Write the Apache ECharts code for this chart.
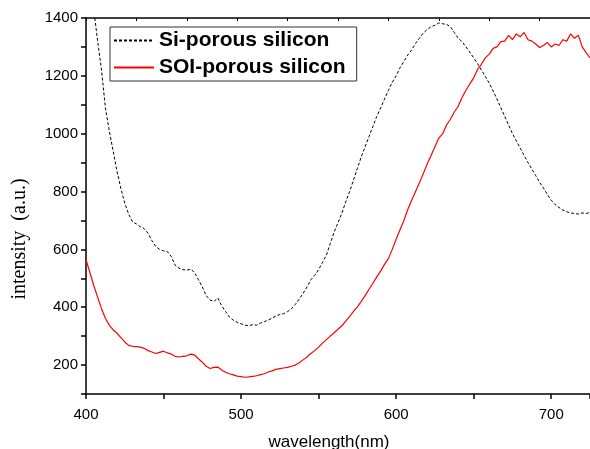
<!DOCTYPE html>
<html>
<head>
<meta charset="utf-8">
<script src="https://cdn.jsdelivr.net/npm/echarts@6/dist/echarts.min.js"></script>
<style>
  html, body { margin: 0; padding: 0; background: #fff; }
  #chart { width: 590px; height: 449px; }
</style>
</head>
<body>
<div id="chart"></div>
<script>
// wavelength (nm), sampled every 2.5 nm
var wavelength = [];
for (var w = 400; w <= 725; w += 2.5) { wavelength.push(w); }

// Si-porous silicon
var siPorous = [1640,1530,1430,1320,1220,1090,1010,940,870,810,
  760,722,695,688,678,672,656,630,610,600,
  595,592,575,545,535,530,528,532,520,495,
  470,440,425,420,432,405,385,366,355,348,
  343,338,336,340,338,345,350,356,362,370,
  375,378,385,395,410,428,448,470,495,510,
  530,555,580,620,660,692,725,765,800,840,
  880,920,955,990,1025,1060,1089,1120,1150,1178,
  1200,1228,1250,1272,1290,1312,1330,1348,1360,1370,
  1375,1383,1380,1378,1370,1350,1330,1318,1300,1282,
  1262,1242,1220,1198,1175,1148,1120,1090,1060,1030,
  1000,975,950,925,900,878,855,832,812,790,
  770,755,745,736,730,726,724,722,726,724,
  728];
// SOI-porous silicon
var soiPorous = [565,520,475,435,395,362,338,322,310,295,
  280,268,265,264,262,258,250,245,240,244,
  248,242,238,230,228,230,232,238,235,222,
  210,196,188,192,193,183,175,170,166,162,
  160,158,159,161,163,167,170,176,180,185,
  188,190,192,196,200,208,218,228,240,250,
  262,276,288,300,312,324,336,352,368,386,
  401,420,440,462,483,505,525,548,568,600,
  635,668,700,738,770,800,830,862,895,925,
  955,985,1000,1030,1050,1075,1095,1125,1150,1172,
  1193,1222,1240,1262,1275,1295,1300,1318,1320,1340,
  1325,1345,1335,1350,1325,1320,1310,1298,1305,1315,
  1300,1310,1305,1325,1320,1345,1330,1340,1300,1280,
  1262];

var toPairs = function (ys) {
  var out = [];
  for (var i = 0; i < wavelength.length; i++) {
    out.push([wavelength[i], ys[i]]);
  }
  return out;
};

var chart = echarts.init(document.getElementById('chart'));
var option = {
  animation: false,
  backgroundColor: '#fff',
  legend: {
    orient: 'vertical',
    left: 110,
    top: 27,
    padding: [3, 11, 3, 3],
    itemGap: 6,
    itemWidth: 40,
    itemHeight: 14,
    borderColor: '#333',
    borderWidth: 1,
    itemStyle: { opacity: 0 },
    textStyle: { fontFamily: 'Liberation Sans, Arial', fontWeight: 'bold', fontSize: 21, color: '#000' },
    data: ['Si-porous silicon', 'SOI-porous silicon']
  },
  grid: { left: 86, top: 18, right: 0, bottom: 55, outerBoundsMode: 'none' },
  xAxis: [{
    type: 'value',
    min: 400,
    max: 725,
    interval: 100,
    name: 'wavelength(nm)',
    nameLocation: 'middle',
    nameGap: 40,
    nameTextStyle: { fontFamily: 'Liberation Sans, Arial', fontSize: 17, color: '#000', padding: [0, 18, 0, 0] },
    axisLine: { lineStyle: { color: '#000', width: 1.5 } },
    axisTick: { length: 5, lineStyle: { color: '#000', width: 1.5 } },
    minorTick: { show: true, splitNumber: 2, length: 5, lineStyle: { color: '#000', width: 1.5 } },
    axisLabel: { margin: 13, fontFamily: 'Liberation Sans, Arial', fontSize: 15, color: '#000',
      formatter: function (v) { return v % 100 === 0 ? v : ''; } },
    splitLine: { show: false }
  }, {
    type: 'value',
    position: 'top',
    min: 0,
    max: 10,
    interval: 1,
    axisLine: { show: true, onZero: false, lineStyle: { color: '#000', width: 1.5 } },
    axisTick: { show: true, length: 3, inside: true, lineStyle: { color: '#000' } },
    axisLabel: { show: false },
    splitLine: { show: false }
  }],
  yAxis: {
    type: 'value',
    min: 100,
    max: 1400,
    interval: 100,
    name: 'intensity  (a.u.)',
    nameLocation: 'middle',
    nameGap: 56,
    nameTextStyle: { fontFamily: 'Liberation Serif, Times New Roman', fontSize: 20, color: '#000', padding: [0, 66, 0, 0] },
    axisLine: { lineStyle: { color: '#000', width: 1.5 } },
    axisTick: { length: 5, lineStyle: { color: '#000', width: 1.5 } },
    axisLabel: { margin: 8, fontFamily: 'Liberation Sans, Arial', fontSize: 15, color: '#000',
      formatter: function (v) { return v % 200 === 0 ? v : ''; } },
    splitLine: { show: false }
  },
  series: [{
    name: 'Si-porous silicon',
    type: 'line',
    symbol: 'none',
    data: toPairs(siPorous),
    lineStyle: { color: '#000', width: 1, type: [3, 2] },
    itemStyle: { color: '#000' }
  }, {
    name: 'SOI-porous silicon',
    type: 'line',
    symbol: 'none',
    data: toPairs(soiPorous),
    lineStyle: { color: '#ff0000', width: 1.2 },
    itemStyle: { color: '#ff0000' }
  }]
};
chart.setOption(option);
</script>
</body>
</html>
